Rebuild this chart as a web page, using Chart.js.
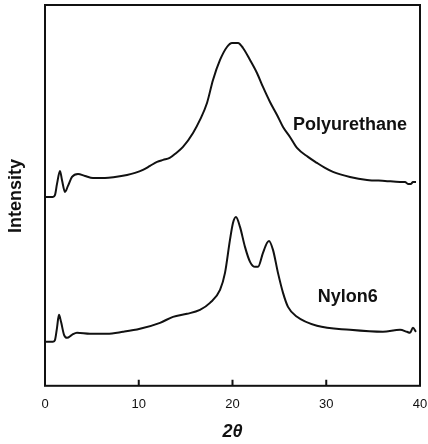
<!DOCTYPE html>
<html>
<head>
<meta charset="utf-8">
<script src="https://cdn.jsdelivr.net/npm/chart.js@4/dist/chart.umd.min.js"></script>
<style>
  body { margin: 0; background: #fff; }
  #box { width: 428px; height: 444px; }
</style>
</head>
<body>
<div id="box"><canvas id="grafico" width="428" height="444"></canvas></div>
<script>
// 2theta / intensity (intensity in arbitrary units, 0..381)
var puX = [0, 0.85, 1.07, 1.28, 1.6, 1.81, 2.13, 2.45, 2.88, 3.52, 4.27, 5.12, 6.4, 7.47, 8.75, 9.6,
  10.45, 11.2, 11.95, 12.6, 13.3, 14.0, 14.72, 15.79, 16.53, 17.28, 17.92, 18.67, 19.41, 19.95,
  20.59, 21.12, 21.87, 22.61, 23.25, 24.0, 24.75, 25.39, 26.13, 26.88, 28.05, 29.01, 29.87, 30.72,
  32.53, 34.35, 36.27, 37.87, 38.4, 38.72, 39.04, 39.25, 39.57];
var puY = [189, 189, 191, 202, 215, 206, 194, 200, 209, 212, 210, 208, 208, 209, 211, 213,
  216, 220, 224, 226, 228, 233, 239, 253, 266, 283, 306, 326, 339, 343,
  343, 338, 326, 313, 299, 284, 271, 259, 249, 238, 229, 223, 218, 214,
  209, 206, 205, 204, 204, 202, 202, 204, 204];

var nyX = [0, 0.85, 1.07, 1.28, 1.49, 1.71, 2.03, 2.35, 2.88, 3.41, 4.8, 6.61, 8.32, 10.13, 12.27,
  13.65, 15.15, 16.53, 17.6, 18.67, 19.2, 19.73, 20.05, 20.37, 20.8, 21.33, 21.87, 22.4, 22.72,
  23.25, 23.68, 23.89, 24.32, 24.85, 25.39, 25.92, 26.88, 29.01, 32.53, 36.05, 37.87, 38.61,
  38.93, 39.25, 39.57];
var nyY = [44, 44, 46, 58, 71, 64, 51, 48, 51, 53, 52, 52, 54, 57, 63,
  69, 72, 76, 83, 96, 113, 146, 163, 169, 159, 139, 124, 119, 119,
  133, 143, 145, 136, 113, 93, 79, 69, 60, 56, 54, 56, 54,
  53, 58, 54];

var xTicks = [0, 10, 20, 30, 40];
var curveNames = ["Polyurethane", "Nylon6"];
// where the name of each curve sits (2theta, intensity)
var nameX = [26.45, 29.1];
var nameY = [261, 89];

function punti(xs, ys){
    let p = [];
    for(let i=0; i<xs.length; i++){
        p.push({x: xs[i], y: ys[i]});
    }
    return p;
}

// frame, inner ticks and texts
var cornice = {
    id: "cornice",
    afterDraw: function(chart){
        let ctx = chart.ctx;
        let a = chart.chartArea;
        let sx = chart.scales.x, sy = chart.scales.y;
        ctx.save();
        ctx.strokeStyle = "#111";
        ctx.lineWidth = 2;
        ctx.strokeRect(a.left, a.top, a.right - a.left, a.bottom - a.top);
        ctx.beginPath();
        for(let v of [10, 20, 30]){
            let px = sx.getPixelForValue(v);
            ctx.moveTo(px, a.bottom);
            ctx.lineTo(px, a.bottom - 6);
        }
        ctx.stroke();

        ctx.fillStyle = "#111";
        ctx.font = "bold 18px 'Liberation Sans', Arial, sans-serif";
        ctx.textBaseline = "middle";
        ctx.textAlign = "left";
        for(let i=0; i<curveNames.length; i++){
            ctx.fillText(curveNames[i], sx.getPixelForValue(nameX[i]), sy.getPixelForValue(nameY[i]));
        }

        ctx.translate(16, 196);
        ctx.rotate(-Math.PI / 2);
        ctx.textAlign = "center";
        ctx.fillText("Intensity", 0, 0);
        ctx.restore();
    }
};

window.onload = function(){
    let canvas = document.getElementById("grafico");
    new Chart(canvas, {
        type: "scatter",
        data: {
            datasets: [
                { label: curveNames[0], data: punti(puX, puY) },
                { label: curveNames[1], data: punti(nyX, nyY) }
            ]
        },
        options: {
            responsive: false,
            animation: false,
            showLine: true,
            layout: { padding: { left: 45, right: 8, top: 5, bottom: 0 } },
            elements: {
                point: { radius: 0, hoverRadius: 0 },
                line: { borderColor: "#111", borderWidth: 2, cubicInterpolationMode: "monotone", fill: false }
            },
            plugins: { legend: { display: false }, tooltip: { enabled: false } },
            scales: {
                x: {
                    type: "linear",
                    min: 0, max: 40,
                    grid: { display: false, drawTicks: false },
                    border: { display: false },
                    afterBuildTicks: function(scale){
                        scale.ticks = xTicks.map(function(v){ return {value: v}; });
                    },
                    afterFit: function(scale){
                        // the "40" label may hang over the right edge, like in the original
                        scale.paddingRight = 0;
                        scale.height = scale.height - 2;
                    },
                    ticks: {
                        padding: 11,
                        color: "#111",
                        maxRotation: 0,
                        font: { family: "'Liberation Sans', Arial, sans-serif", size: 13 }
                    },
                    title: {
                        display: true,
                        text: "2θ",
                        color: "#111",
                        padding: { top: 0, bottom: 1 },
                        font: { family: "'Liberation Sans', Arial, sans-serif", size: 18, weight: "bold", style: "italic" }
                    }
                },
                y: {
                    display: false,
                    min: 0, max: 381
                }
            }
        },
        plugins: [cornice]
    });
};
</script>
</body>
</html>
